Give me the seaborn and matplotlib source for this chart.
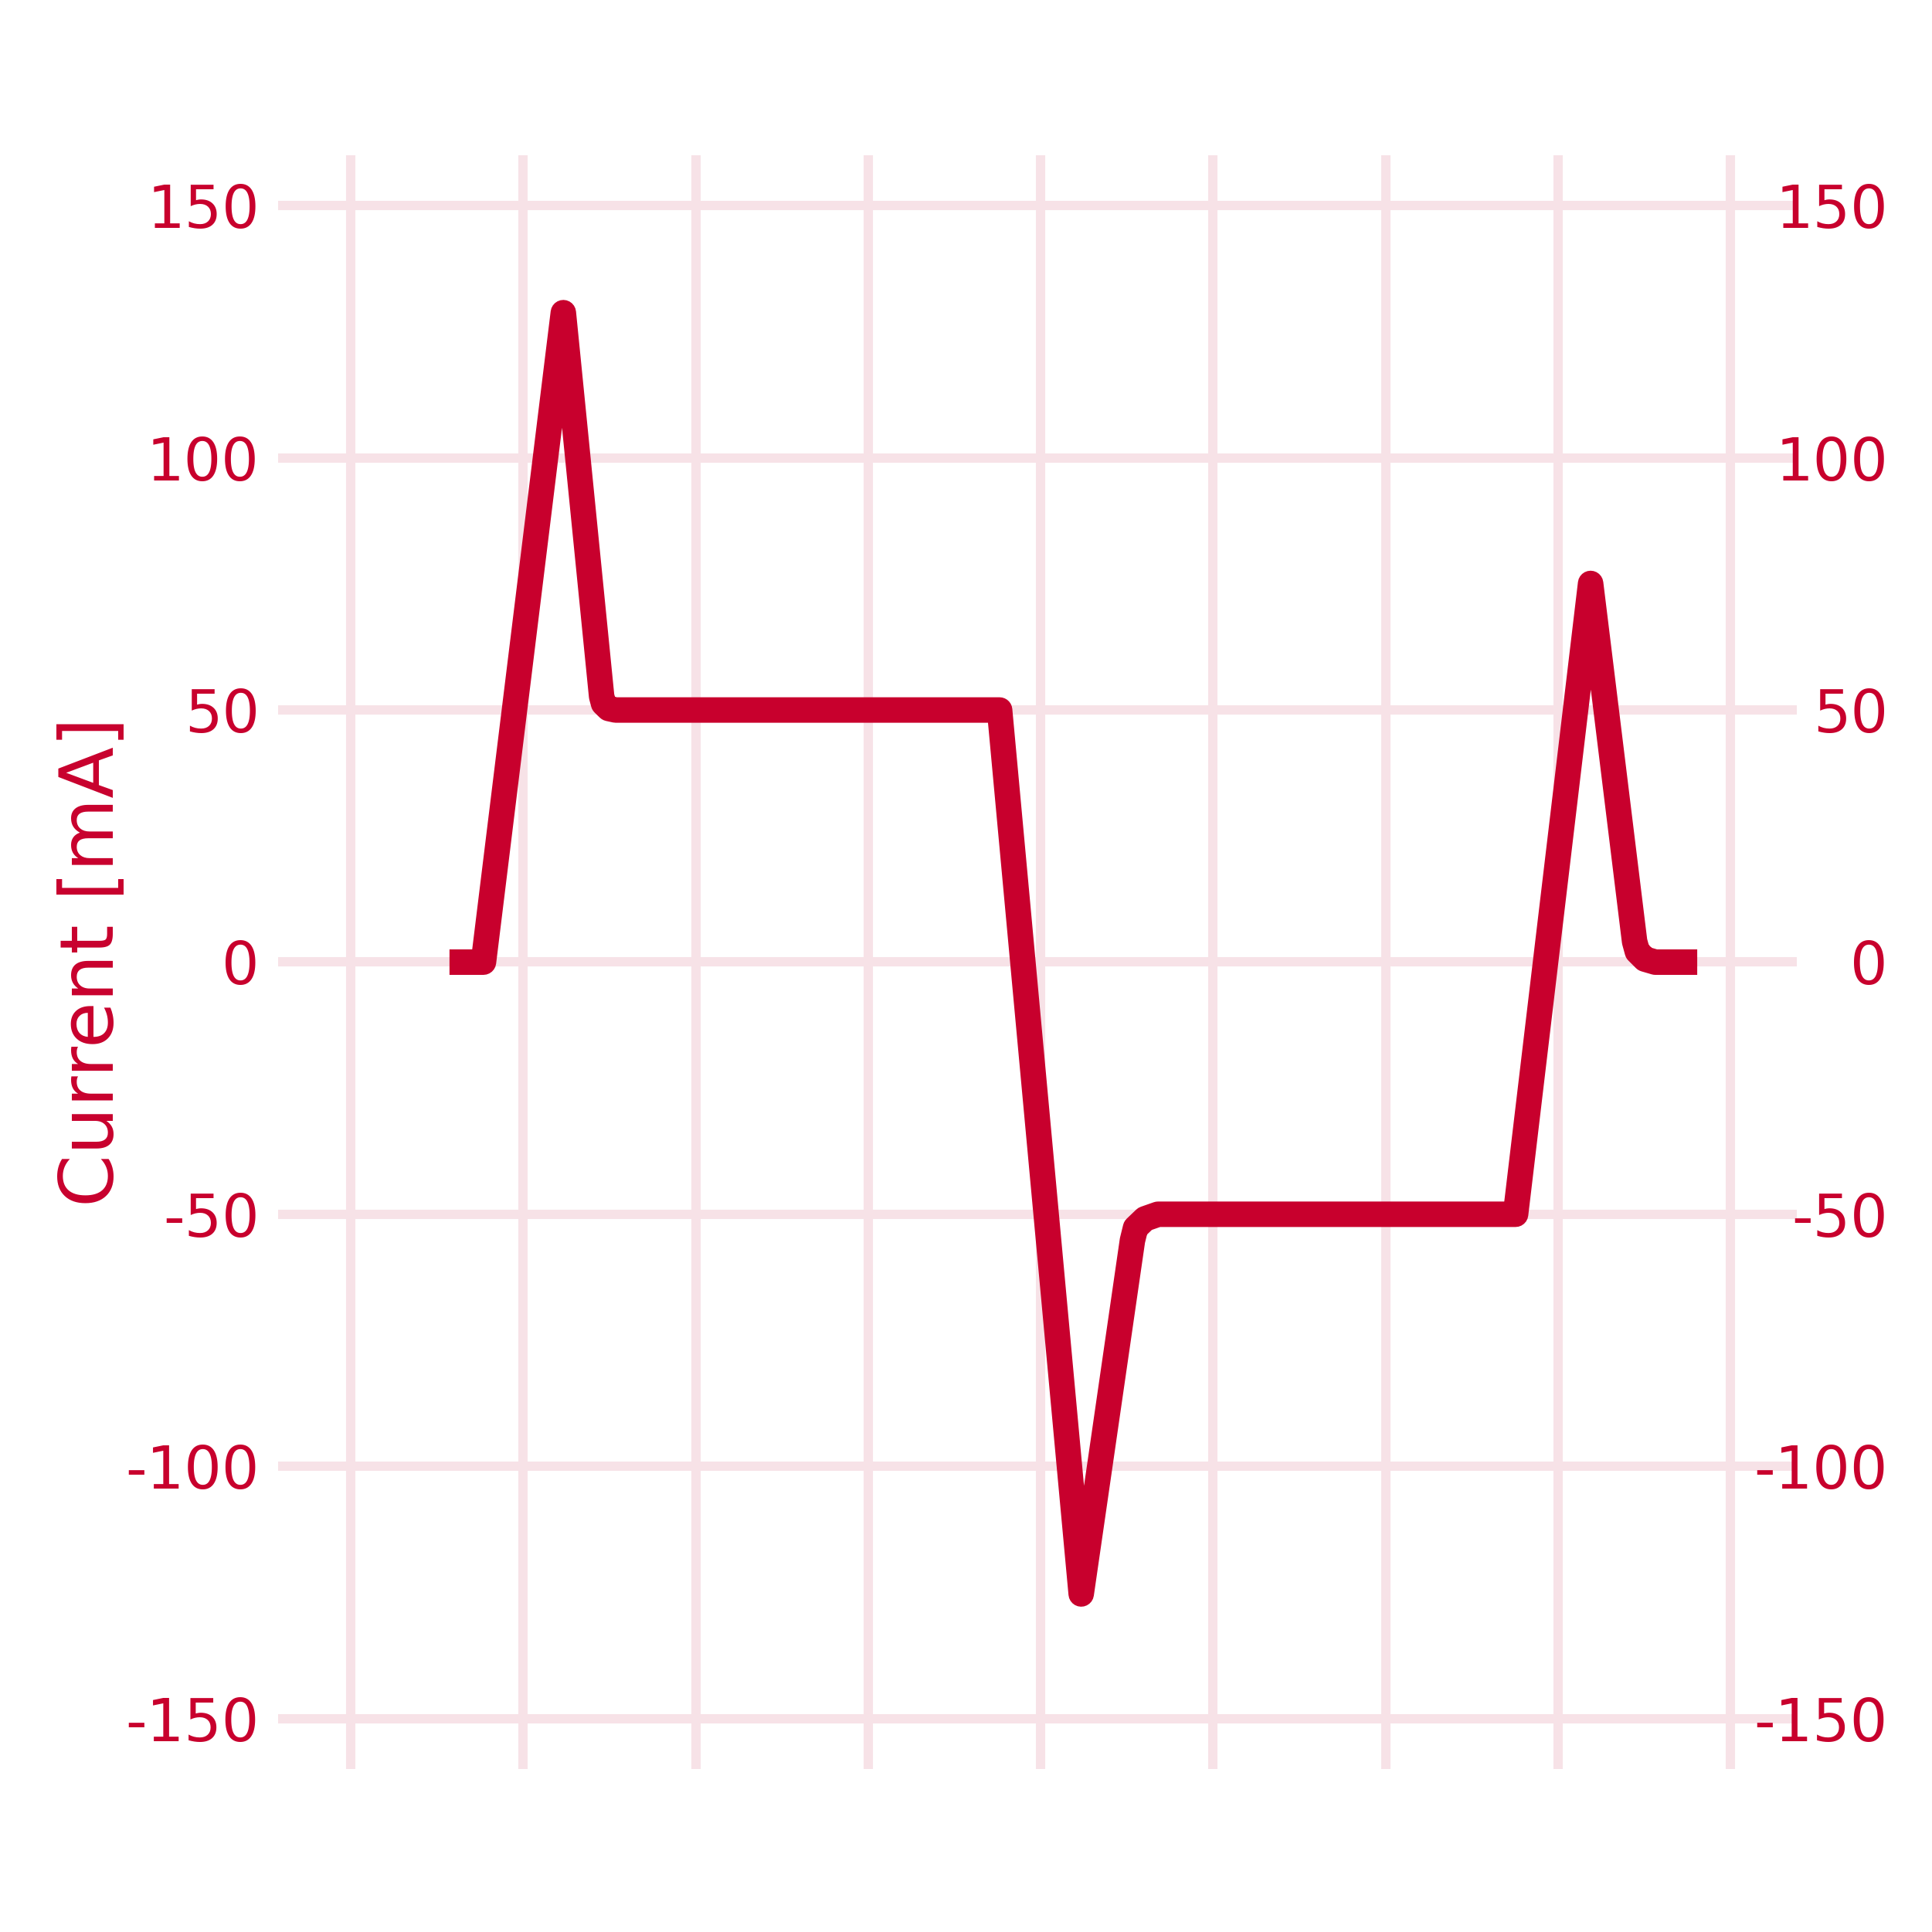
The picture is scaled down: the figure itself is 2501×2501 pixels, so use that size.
import numpy as np
import pandas as pd
import seaborn as sns
import matplotlib.pyplot as plt

# values
time = [0.573, 0.770, 1.233, 1.455, 1.466, 1.496, 1.536, 3.762, 4.235,
        4.532, 4.550, 4.605, 4.680, 6.753, 7.188, 7.443, 7.459, 7.503,
        7.563, 7.806]
current = [0, 0, 128.8, 52.7, 51.3, 50.3, 50, 50, -125.3,
           -55.2, -52.7, -50.9, -50, -50, 75.1, 4.1, 2.1, 0.6,
           0, 0]
grid_x = [0, 1, 2, 3, 4, 5, 6, 7, 8]
y_ticks = [-150, -100, -50, 0, 50, 100, 150]
y_labels = ['-150', '-100', '-50', '0', '50', '100', '150']

red = '#C8002D'
pink = '#F7E2E7'

sns.set_theme(style='whitegrid')
plt.rcParams['font.family'] = ['DejaVu Sans']
plt.rcParams['axes.unicode_minus'] = False

df = pd.DataFrame({'time': time, 'current': current})

fig = plt.figure(figsize=(10.004, 10.004), dpi=250)
ax = fig.add_axes([0.1439, 0.0844, 0.7861, 0.8352])

sns.lineplot(data=df, x='time', y='current', ax=ax, color=red,
             linewidth=9.5, estimator=None, sort=False,
             solid_capstyle='butt', solid_joinstyle='round', zorder=3)

ax.set_xlim(-0.421, 8.383)
ax.set_ylim(-160, 160)
ax.set_xticks(grid_x)
ax.set_xticklabels([])
ax.set_yticks(y_ticks)
ax.set_yticklabels(y_labels)
ax.set_xlabel('')
ax.grid(True, color=pink, linewidth=3.46)
ax.tick_params(axis='both', length=0)
ax.tick_params(axis='y', colors=red, labelsize=22, pad=6.9)
for s in ax.spines.values():
    s.set_visible(False)

ax.set_ylabel('Current [mA]', color=red, fontsize=28, va='center')
ax.yaxis.set_label_coords(-0.122, 0.5)

# right-hand labels
ax2 = ax.twinx()
ax2.set_ylim(ax.get_ylim())
ax2.set_yticks(y_ticks)
ax2.set_yticklabels(y_labels)
ax2.grid(False)
ax2.tick_params(axis='y', length=0, colors=red, labelsize=22, pad=34)
for lab in ax2.get_yticklabels():
    lab.set_horizontalalignment('right')
for s in ax2.spines.values():
    s.set_visible(False)

fig.savefig('out.png', dpi=250, facecolor='white')
